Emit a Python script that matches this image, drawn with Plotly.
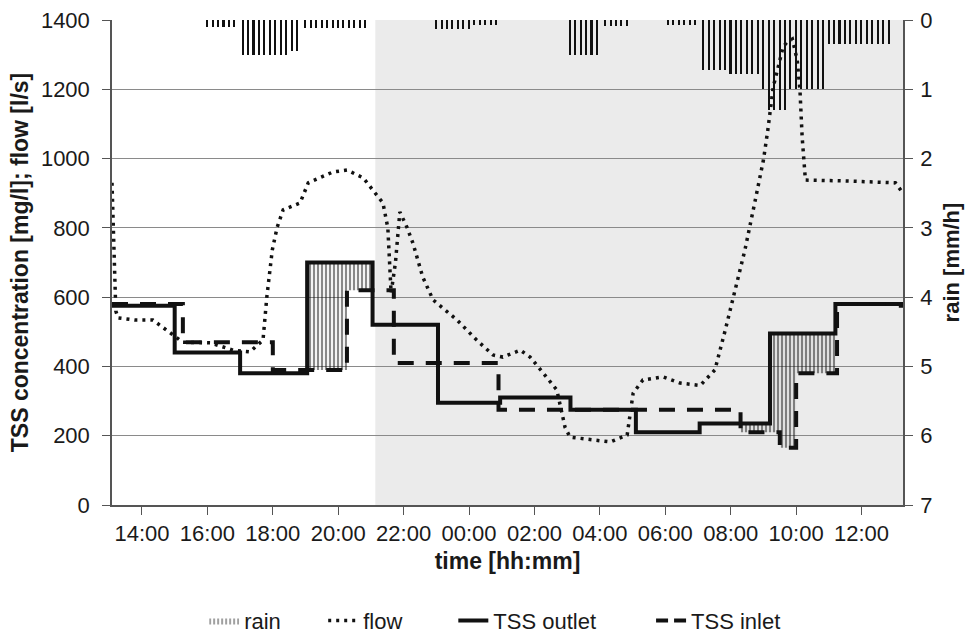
import plotly.graph_objects as go
import pandas as pd

# ---------------- data (clock times) ----------------
outlet_time = ["13:05", "15:00", "17:00", "19:03", "21:03", "23:03", "00:57",
               "03:06", "05:06", "07:03", "09:12", "11:12", "13:12", "13:16"]
outlet_tss = [575, 440, 380, 700, 520, 295, 310, 275, 210, 235, 495, 580, 575, 570]

inlet_time = ["13:05", "15:15", "18:00", "20:16", "21:42", "00:54", "08:18",
              "09:30", "10:00", "11:15", "13:16"]
inlet_tss = [580, 470, 390, 620, 410, 275, 210, 165, 380, 580, 580]

flow_time = ["13:05", "13:08", "13:12", "13:16", "13:47", "14:20", "14:46", "15:15",
             "16:05", "16:47", "17:18", "17:42", "17:49", "17:59", "18:08", "18:19",
             "18:50", "19:05", "19:50", "20:16", "20:46", "21:22", "21:31", "21:37",
             "21:45", "21:53", "22:06", "22:17", "22:35", "22:54", "23:38", "00:14",
             "00:44", "01:02", "01:34", "01:52", "02:16", "02:41", "02:56", "03:05",
             "04:19", "04:50", "05:01", "05:19", "05:56", "06:27", "07:04", "07:31",
             "07:50", "08:08", "08:26", "08:45", "09:00", "09:08", "09:18", "09:27",
             "09:36", "09:43", "09:53", "10:02", "10:07", "10:11", "10:17", "11:39",
             "13:02", "13:16"]
flow_ls = [930, 760, 560, 540, 534, 534, 505, 470,
           468, 447, 442, 476, 600, 736, 802, 852,
           872, 930, 961, 967, 944, 872, 800, 612,
           700, 846, 802, 756, 658, 592, 534, 476,
           433, 427, 447, 427, 381, 332, 225, 196,
           182, 202, 323, 361, 370, 352, 345, 390,
           505, 620, 736, 880, 996, 1082, 1207, 1264,
           1322, 1336, 1345, 1284, 1197, 1062, 938, 935,
           930, 900]

rain_time = ["16:00", "16:10", "16:20", "16:30", "16:40", "16:50",
             "17:05", "17:15", "17:25", "17:35", "17:45", "17:55", "18:05", "18:15",
             "18:25", "18:35", "18:45",
             "19:00", "19:10", "19:20", "19:30", "19:40", "19:50", "20:00", "20:10",
             "20:20", "20:30", "20:40", "20:50",
             "23:00", "23:10", "23:20", "23:30", "23:40", "23:50", "00:00",
             "00:10", "00:20", "00:30", "00:40", "00:50",
             "03:05", "03:15", "03:25", "03:35", "03:45", "03:55",
             "04:10", "04:20", "04:30", "04:40", "04:50",
             "06:05", "06:15", "06:25", "06:35", "06:45", "06:55",
             "07:10", "07:20", "07:30", "07:40", "07:50",
             "08:00", "08:10", "08:20", "08:30", "08:40", "08:50",
             "09:00", "09:10", "09:20", "09:30", "09:40", "09:50",
             "10:00", "10:10", "10:20", "10:30", "10:40", "10:50",
             "11:00", "11:10", "11:20", "11:30", "11:40", "11:50", "12:00", "12:10",
             "12:20", "12:30", "12:40", "12:50"]
rain_mmh = [0.1, 0.1, 0.1, 0.1, 0.1, 0.1,
            0.5, 0.5, 0.5, 0.5, 0.5, 0.5, 0.5, 0.5,
            0.5, 0.45, 0.45,
            0.12, 0.12, 0.12, 0.12, 0.12, 0.12, 0.12, 0.12,
            0.12, 0.12, 0.12, 0.12,
            0.13, 0.13, 0.13, 0.13, 0.13, 0.13, 0.13,
            0.07, 0.07, 0.07, 0.07, 0.07,
            0.5, 0.5, 0.5, 0.5, 0.5, 0.5,
            0.08, 0.08, 0.08, 0.08, 0.08,
            0.07, 0.07, 0.07, 0.07, 0.07, 0.07,
            0.72, 0.72, 0.72, 0.72, 0.72,
            0.78, 0.78, 0.78, 0.78, 0.78, 0.78,
            1.0, 1.3, 1.3, 1.3, 1.3, 1.0,
            1.0, 1.0, 1.0, 1.0, 1.0, 1.0,
            0.35, 0.35, 0.35, 0.35, 0.35, 0.35, 0.35, 0.35,
            0.35, 0.35, 0.35, 0.35]

tick_labels = ["14:00", "16:00", "18:00", "20:00", "22:00", "00:00",
               "02:00", "04:00", "06:00", "08:00", "10:00", "12:00"]
night_from = "21:08"
hatch_from = ["19:03", "08:18"]
hatch_to = ["21:03", "11:12"]

# ---------------- helpers ----------------
BASE = pd.Timestamp("2000-01-01")


def clock(label, after=13.0):
    h, m = map(int, label.split(":"))
    v = h + m / 60.0
    while v < after:
        v += 24
    return v


def series(labels):
    out, prev = [], 13.0
    for s in labels:
        prev = clock(s, prev)
        out.append(prev)
    return out


def to_dt(hrs):
    return [BASE + pd.Timedelta(hours=h) for h in hrs]


def step_at(T, V, t, before=False):
    val = V[0]
    for ti, vi in zip(T, V):
        if ti < t or (ti == t and not before):
            val = vi
    return val


def clip(T, V, a, b):
    xs, ys = [a], [step_at(T, V, a)]
    for ti, vi in zip(T, V):
        if a < ti < b:
            xs.append(ti)
            ys.append(vi)
    xs.append(b)
    ys.append(step_at(T, V, b, before=True))
    return xs, ys


out_h = series(outlet_time)
in_h = series(inlet_time)
flow_h = series(flow_time)
rain_h = series(rain_time)
tick_h = series(tick_labels)
x0, x1 = out_h[0], out_h[-1]
night_h = clock(night_from, x0)

FONT = "Liberation Sans, Arial, sans-serif"
INK = "#111111"
TXT = "#1a1a1a"

fig = go.Figure()

# hatched difference areas between outlet and inlet
for a_lab, b_lab in zip(hatch_from, hatch_to):
    a = clock(a_lab, x0)
    b = clock(b_lab, a)
    lx, ly = clip(in_h, inlet_tss, a, b)
    ux, uy = clip(out_h, outlet_tss, a, b)
    fig.add_trace(go.Scatter(x=to_dt(lx), y=ly, mode="lines",
                             line=dict(width=0, shape="hv"),
                             showlegend=False, hoverinfo="skip"))
    fig.add_trace(go.Scatter(x=to_dt(ux), y=uy, mode="lines",
                             line=dict(width=0, shape="hv"),
                             fill="tonexty", fillcolor="rgba(0,0,0,0)",
                             fillpattern=dict(shape="|", size=4, solidity=0.55,
                                              fgcolor=INK,
                                              bgcolor="rgba(0,0,0,0)"),
                             showlegend=False, hoverinfo="skip"))

# rain bars (hanging from the top on the reversed right axis)
fig.add_trace(go.Bar(x=to_dt(rain_h), y=rain_mmh, yaxis="y2", base=0,
                     width=170000, marker=dict(color=INK, line=dict(width=0)),
                     showlegend=False, name="rain"))
# legend entry for rain (hatched strip)
fig.add_trace(go.Scatter(x=[None], y=[None], mode="lines", name="rain", legend="legend",
                         line=dict(width=0), fill="toself", fillcolor="rgba(0,0,0,0)",
                         fillpattern=dict(shape="|", size=4, solidity=0.4,
                                          fgcolor=INK, bgcolor="white")))

fig.add_trace(go.Scatter(x=to_dt(flow_h), y=flow_ls, mode="lines", name="flow",
                         legend="legend2",
                         line=dict(color=INK, width=3.5, dash="3px,5px")))
fig.add_trace(go.Scatter(x=to_dt(out_h), y=outlet_tss, mode="lines", name="TSS outlet",
                         legend="legend3",
                         line=dict(color=INK, width=4, shape="hv")))
fig.add_trace(go.Scatter(x=to_dt(in_h), y=inlet_tss, mode="lines", name="TSS inlet",
                         showlegend=False,
                         line=dict(color=INK, width=4, shape="hv", dash="16px,12px")))
# legend entry for the inlet (two dashes fit the short legend sample)
fig.add_trace(go.Scatter(x=[None], y=[None], mode="lines", name="TSS inlet",
                         legend="legend4",
                         line=dict(color=INK, width=4, dash="12px,6px")))

# night shading
fig.add_shape(type="rect", xref="x", yref="y", x0=to_dt([night_h])[0], x1=to_dt([x1])[0],
              y0=0, y1=1400, fillcolor="#ebebeb", line=dict(width=0), layer="below")

axis_common = dict(showline=True, linecolor="#555555", linewidth=1.5,
                   ticks="outside", ticklen=8, tickcolor="#555555", automargin=False,
                   tickfont=dict(family=FONT, size=22, color=TXT))


def leg(xp):
    return dict(orientation="h", x=xp, xanchor="left",
                yref="container", y=0.021, yanchor="middle",
                font=dict(family=FONT, size=22, color=TXT),
                bgcolor="rgba(0,0,0,0)", borderwidth=0)


fig.update_layout(
    width=965, height=634,
    margin=dict(l=112, r=62, t=20, b=129),
    paper_bgcolor="white", plot_bgcolor="white",
    font=dict(family=FONT, color=TXT),
    bargap=0,
    xaxis=dict(range=to_dt([x0, x1]), type="date",
               tickvals=to_dt(tick_h), ticktext=tick_labels,
               showgrid=False, zeroline=False,
               title=dict(text="<b>time [hh:mm]</b>", standoff=8,
                          font=dict(family=FONT, size=23, color=TXT)),
               **axis_common),
    yaxis=dict(range=[0, 1400], dtick=200, showgrid=True, gridcolor="#8a8a8a",
               gridwidth=1.3, zeroline=False, ticklabelstandoff=8,
               title=dict(text="<b>TSS concentration [mg/l]; flow [l/s]</b>", standoff=6,
                          font=dict(family=FONT, size=23, color=TXT)),
               **axis_common),
    yaxis2=dict(range=[7, 0], dtick=1, overlaying="y", side="right",
                showgrid=False, zeroline=False, ticklabelstandoff=3,
                title=dict(text="<b>rain [mm/h]</b>", standoff=12,
                           font=dict(family=FONT, size=22, color=TXT)),
                **axis_common),
    legend=leg(0.1165),
    legend2=leg(0.267),
    legend3=leg(0.4315),
    legend4=leg(0.6815),
    showlegend=True,
)

fig.write_html("out.html",
               config={"displayModeBar": False},
               post_script="document.body.style.margin='0px';"
                           "document.body.style.overflow='hidden';")
